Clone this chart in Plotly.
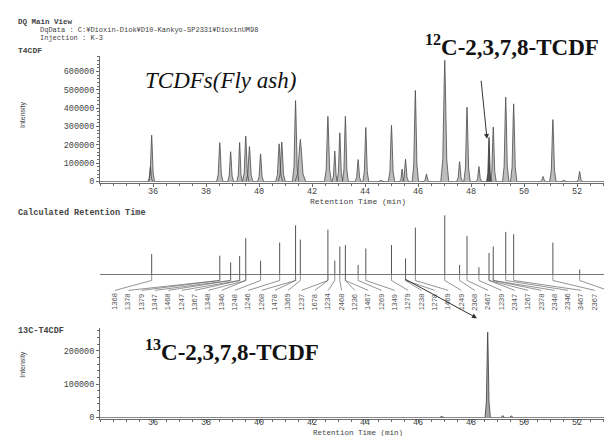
import plotly.graph_objects as go
import numpy as np

W, H = 612, 436

# ---------------- data ----------------
# T4CDF chromatogram peaks (retention time [min], intensity, half base width [min])
peak_rt = [35.90, 35.95, 38.52, 38.93, 39.27, 39.50, 39.64, 40.06, 40.76, 40.86,
           41.38, 41.56, 42.60, 42.86, 43.05, 43.26, 43.74, 44.03, 44.60, 45.00,
           45.40, 45.53, 45.90, 46.32, 47.01, 47.57, 47.85, 48.30, 48.84, 49.31,
           49.61, 50.72, 51.09, 51.50, 52.10, 53.28]
peak_int = [80000, 252000, 211000, 162000, 212000, 247000, 190000, 150000, 205000, 215000,
            441000, 229000, 355000, 166000, 265000, 355000, 119000, 294000, 8000, 306000,
            67000, 121000, 496000, 40000, 661000, 108000, 405000, 81000, 297000, 459000,
            423000, 27000, 337000, 8000, 54000, 18000]
peak_w = [0.09, 0.11, 0.12, 0.11, 0.10, 0.12, 0.13, 0.11, 0.13, 0.13,
          0.12, 0.20, 0.13, 0.10, 0.11, 0.11, 0.11, 0.11, 0.09, 0.12,
          0.09, 0.11, 0.12, 0.10, 0.15, 0.11, 0.12, 0.10, 0.11, 0.12,
          0.12, 0.10, 0.12, 0.09, 0.10, 0.09]

# 2,3,7,8-TCDF peak (darker)
tcdf_rt = [48.68]
tcdf_int = [240000]
tcdf_w = [0.09]

# 13C-T4CDF chromatogram
c13_rt = [46.90, 48.63, 49.20, 49.52]
c13_int = [2500, 256000, 5000, 4000]
c13_w = [0.07, 0.10, 0.06, 0.06]

# Calculated retention time sticks
stick_rt = [35.95, 38.52, 38.93, 39.27, 39.50, 40.06, 40.78, 41.38, 41.56, 42.60,
            42.86, 43.05, 43.26, 43.74, 44.03, 45.00, 45.53, 45.90, 47.01, 47.57,
            47.85, 48.30, 48.68, 48.84, 49.31, 49.61, 51.09, 52.10]
stick_h = [20.7, 19, 12.3, 18.7, 36.7, 14, 32.3, 49.7, 35.3, 45.3,
           14, 28.3, 29.7, 9.7, 26.3, 29.7, 16.3, 47.3, 59.7, 9.7,
           39, 7.3, 21.7, 28.3, 43, 40.7, 32.3, 5]
stick_nlab = [1, 2, 2, 2, 2, 1, 1, 2, 1, 2,
              1, 1, 2, 1, 1, 1, 2, 1, 1, 1,
              1, 1, 2, 2, 1, 1, 1, 1]
isomers = ["1368", "1378", "1379", "1347", "1468", "1247", "1367", "1348", "1346", "1248",
           "1246", "1268", "1478", "1369", "1237", "1678", "1234", "2468", "1236", "1467",
           "1269", "1349", "1279", "1238", "1278", "1469", "1249", "2368", "2467", "1239",
           "2347", "1267", "2378", "2348", "2346", "3467", "2367", "1289"]

x_ticks = [36, 38, 40, 42, 44, 46, 48, 50, 52]

# ---------------- geometry helpers ----------------
PX_PER_MIN = 26.5
X0 = 34.0
XR = [X0, X0 + (612 - 92) / PX_PER_MIN]


def px2t(px):
    return X0 + (px - 92) / PX_PER_MIN


def py2paper(py):
    return 1 - py / H


def peak_path(rts, ints, ws):
    xs, ys = [], []
    for t, h, w in zip(rts, ints, ws):
        xs += [t - w, t - 0.5 * w, t - 0.12 * w, t, t + 0.12 * w, t + 0.5 * w, t + w, None]
        ys += [0, 0.18 * h, 0.85 * h, h, 0.85 * h, 0.18 * h, 0, None]
    return xs, ys


GREY = "#6a6a6a"
TXT = "#444444"
SANS = "Liberation Sans, Arial, sans-serif"
MONO = "Liberation Mono, DejaVu Sans Mono, monospace"
SERIF = "Liberation Serif, Times New Roman, serif"

fig = go.Figure()

# top chromatogram
xs, ys = peak_path(peak_rt, peak_int, peak_w)
fig.add_trace(go.Scatter(x=xs, y=ys, mode="lines", fill="toself", fillcolor="#bdbdbd",
                         line=dict(color="#4a4a4a", width=0.8), xaxis="x", yaxis="y",
                         hoverinfo="skip", showlegend=False))
xs, ys = peak_path(tcdf_rt, tcdf_int, tcdf_w)
fig.add_trace(go.Scatter(x=xs, y=ys, mode="lines", fill="toself", fillcolor="#555555",
                         line=dict(color="#333333", width=0.8), xaxis="x", yaxis="y",
                         hoverinfo="skip", showlegend=False))

# sticks
sx, sy = [], []
for t, h in zip(stick_rt, stick_h):
    sx += [t, t, None]
    sy += [0, h, None]
fig.add_trace(go.Scatter(x=sx, y=sy, mode="lines", line=dict(color="#555555", width=1),
                         xaxis="x2", yaxis="y2", hoverinfo="skip", showlegend=False))

# connectors and labels
lab_px = np.linspace(107, 600, len(isomers))
lab_t = [px2t(p) for p in lab_px]
cx, cy = [], []
k = 0
for t, n in zip(stick_rt, stick_nlab):
    for _ in range(n):
        cx += [t, t, lab_t[k], None]
        cy += [0, -6, -16, None]
        k += 1
fig.add_trace(go.Scatter(x=cx, y=cy, mode="lines", line=dict(color="#666666", width=0.7),
                         xaxis="x2", yaxis="y2", hoverinfo="skip", showlegend=False))

# bottom chromatogram
xs, ys = peak_path(c13_rt, c13_int, c13_w)
fig.add_trace(go.Scatter(x=xs, y=ys, mode="lines", fill="toself", fillcolor="#a8a8a8",
                         line=dict(color="#3a3a3a", width=0.8), xaxis="x3", yaxis="y3",
                         hoverinfo="skip", showlegend=False))

axis_common = dict(showgrid=False, linecolor=GREY, linewidth=1, ticks="outside",
                   tickcolor=GREY, ticklen=3, tickfont=dict(family=MONO, size=8.5, color=TXT))

annotations = []
for j, (t, lab) in enumerate(zip(lab_t, isomers)):
    annotations.append(dict(x=t, y=-17, xref="x2", yref="y2", text=lab, textangle=-90,
                            showarrow=False, xanchor="center", yanchor="top",
                            font=dict(family=SANS, size=7.5, color="#555555")))

# x tick labels (placed close to the axis, as in the reference)
for v in x_ticks:
    for axr, py in (("x", 186), ("x3", 419)):
        annotations.append(dict(x=v, y=py2paper(py), xref=axr, yref="paper", text=str(v),
                                showarrow=False, xanchor="center", yanchor="middle",
                                font=dict(family=MONO, size=8.5, color=TXT)))


def ptext(px, py, text, size, bold=False, italic=False, family=SANS, color=TXT,
          xanchor="left", angle=0):
    t = text
    if bold:
        t = "<b>" + t + "</b>"
    if italic:
        t = "<i>" + t + "</i>"
    annotations.append(dict(x=px / W, y=py2paper(py), xref="paper", yref="paper", text=t,
                            showarrow=False, xanchor=xanchor, yanchor="middle",
                            textangle=angle, borderpad=0,
                            font=dict(family=family, size=size, color=color)))


ptext(9, 14, "DQ Main View", 7.5, bold=True, family=MONO)
ptext(31, 22, "DqData : C:¥Dioxin-Diok¥D10-Kankyo-SP2331¥DioxinUM98", 7, family=MONO)
ptext(31, 30, "Injection : K-3", 7, family=MONO)
ptext(9, 43, "T4CDF", 8, bold=True, family=MONO)
ptext(15, 108, "Intensity", 7, angle=-90, xanchor="center")
ptext(350, 195, "Retention Time (min)", 8, xanchor="center", family=MONO)
ptext(9, 207, "Calculated Retention Time", 8.5, bold=True, family=MONO)
ptext(9, 326, "13C-T4CDF", 8.5, bold=True, family=MONO)
ptext(15, 360, "Intensity", 7, angle=-90, xanchor="center")
ptext(350, 429, "Retention Time (min)", 7.5, xanchor="center", family=MONO)
ptext(136, 73, "TCDFs(Fly ash)", 23, italic=True, family=SERIF, color="#111111")
ptext(416, 38, "<b><sup>12</sup>C-2,3,7,8-TCDF</b>", 23, family=SERIF, color="#111111")
ptext(136, 346, "<b><sup>13</sup>C-2,3,7,8-TCDF</b>", 23, family=SERIF, color="#111111")

# arrows
annotations.append(dict(x=px2t(479), y=232000, ax=px2t(473), ay=557000, xref="x", yref="y",
                        axref="x", ayref="y", text="", showarrow=True, arrowhead=2,
                        arrowsize=1, arrowwidth=1, arrowcolor="#333333"))
annotations.append(dict(x=px2t(469), y=-44, ax=px2t(396), ay=-4, xref="x2", yref="y2",
                        axref="x2", ayref="y2", text="", showarrow=True, arrowhead=2,
                        arrowsize=1, arrowwidth=1, arrowcolor="#333333"))

top_dom = [py2paper(177), py2paper(48)]
mid_dom = [py2paper(315), py2paper(200)]
bot_dom = [py2paper(415), py2paper(323)]
xdom = [92 / W, 1.0]

fig.update_layout(
    width=W, height=H, margin=dict(l=0, r=0, t=0, b=0),
    paper_bgcolor="white", plot_bgcolor="white", showlegend=False,
    xaxis=dict(domain=xdom, anchor="y", range=XR, tickvals=x_ticks, showticklabels=False,
               minor=dict(dtick=0.5, ticklen=2, tickcolor=GREY, ticks="outside"),
               zeroline=False, **axis_common),
    yaxis=dict(domain=top_dom, anchor="x", range=[-10800, 686500], dtick=100000,
               tickformat="d", zeroline=True, zerolinecolor="#888888", zerolinewidth=1,
               minor=dict(dtick=20000, ticklen=2, tickcolor=GREY, ticks="outside"),
               **axis_common),
    xaxis2=dict(domain=xdom, anchor="y2", range=XR, visible=False),
    yaxis2=dict(domain=mid_dom, anchor="x2", range=[-46, 69], showticklabels=False,
                showline=False, showgrid=False, zeroline=True, zerolinecolor="#777777",
                zerolinewidth=1.2, ticks=""),
    xaxis3=dict(domain=xdom, anchor="y3", range=XR, tickvals=x_ticks, showticklabels=False,
                minor=dict(dtick=0.5, ticklen=2, tickcolor=GREY, ticks="outside"),
                zeroline=False, **axis_common),
    yaxis3=dict(domain=bot_dom, anchor="x3", range=[-6000, 268700], dtick=100000,
                tickformat="d", zeroline=True, zerolinecolor="#888888", zerolinewidth=1,
                minor=dict(dtick=20000, ticklen=2, tickcolor=GREY, ticks="outside"),
                **axis_common),
    annotations=annotations,
)

fig.write_html("out.html")
